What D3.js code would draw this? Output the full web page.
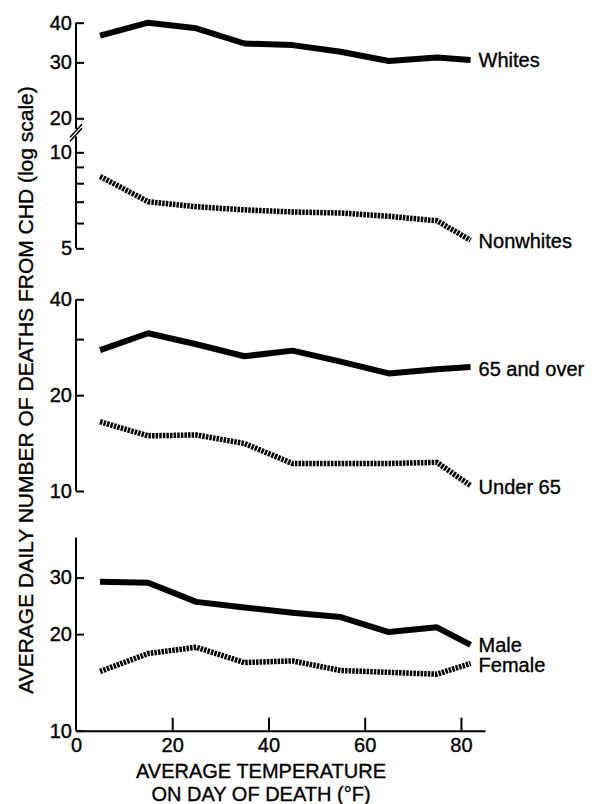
<!DOCTYPE html>
<html>
<head>
<meta charset="utf-8">
<script src="https://cdn.jsdelivr.net/npm/d3@7"></script>
<style>
  html, body { margin: 0; padding: 0; background: #fff; }
  svg { display: block; font-family: "Liberation Sans", Arial, Helvetica, sans-serif; }
  svg text { fill: #000; stroke: #000; stroke-width: 0.35px; }
</style>
</head>
<body>
<svg id="chart" width="592" height="804"></svg>
<script>
// average temperature on day of death (class midpoints, deg F)
var temps = [5, 15, 25, 35, 45, 55, 65, 75, 82];

// average daily deaths from CHD
var whites    = [36.4, 40.0, 38.4, 34.4, 34.0, 32.4, 30.3, 31.1, 30.5];
var nonwhites = [8.4, 7.0, 6.75, 6.6, 6.5, 6.45, 6.3, 6.1, 5.3];
var over65    = [27.7, 31.3, 28.9, 26.5, 27.6, 25.5, 23.4, 24.1, 24.5];
var under65   = [16.5, 14.9, 15.0, 14.1, 12.2, 12.2, 12.2, 12.3, 10.4];
var male      = [29.1, 28.9, 25.2, 24.2, 23.3, 22.6, 20.3, 21.0, 18.5];
var female    = [15.3, 17.4, 18.2, 16.3, 16.5, 15.4, 15.2, 15.0, 16.2];

// axis ticks and which of them get a label
var xTicks = [0, 20, 40, 60, 80];
var whiteTicks = [20, 30, 40], whiteLabels = [20, 30, 40];
var nonwhiteTicks = [5, 6, 7, 8, 9, 10], nonwhiteLabels = [5, 10];
var ageTicks = [10, 20, 30, 40], ageLabels = [10, 20, 40];
var sexTicks = [10, 20, 30], sexLabels = [10, 20, 30];

var svg = d3.select("#chart");
var FONT = 20;

var x = d3.scaleLinear().domain([0, 85]).range([76, 485]);

var yWhite = d3.scaleLog().domain([20, 40]).range([118.3, 22.7]);
var yNonwhite = d3.scaleLog().domain([5, 10]).range([248.3, 152.3]);
var yAge = d3.scaleLog().domain([10, 40]).range([491, 299.3]);
var ySex = d3.scaleLog().domain([10, 40]).range([730.7, 537.5]);

function drawYAxis(scale, ticks, labels, lo, hi) {
    var g = svg.append("g")
        .attr("transform", "translate(" + x(0) + ",0)")
        .call(d3.axisLeft(scale)
            .tickValues(ticks)
            .tickSize(-8)
            .tickSizeOuter(0)
            .tickPadding(4)
            .tickFormat(function (d) { return labels.indexOf(d) >= 0 ? d : ""; }));
    g.select(".domain").remove();
    g.selectAll(".tick line").attr("stroke", "#000").attr("stroke-width", 2);
    g.selectAll(".tick text").style("font-size", FONT + "px");
    g.append("line")
        .attr("x1", 0).attr("x2", 0)
        .attr("y1", scale(hi)).attr("y2", scale(lo))
        .attr("stroke", "#000").attr("stroke-width", 2);
    return g;
}

drawYAxis(yWhite, whiteTicks, whiteLabels, 18.5, 40);
drawYAxis(yNonwhite, nonwhiteTicks, nonwhiteLabels, 5, 11.2);
drawYAxis(yAge, ageTicks, ageLabels, 10, 40);
drawYAxis(ySex, sexTicks, sexLabels, 10, 40);

// axis break marks between Whites and Nonwhites
var yBreak = (yWhite(18.5) + yNonwhite(11.2)) / 2;
[-2, 2].forEach(function (off) {
    svg.append("line")
        .attr("x1", x(0) - 6).attr("y1", yBreak + off + 6.5)
        .attr("x2", x(0) + 6).attr("y2", yBreak + off - 6.5)
        .attr("stroke", "#000").attr("stroke-width", 1.6);
});

// x axis
var gx = svg.append("g")
    .attr("transform", "translate(0," + ySex(10) + ")")
    .call(d3.axisBottom(x)
        .tickValues(xTicks)
        .tickSize(-13)
        .tickSizeOuter(0)
        .tickPadding(7));
gx.select(".domain").attr("stroke", "#000").attr("stroke-width", 2);
gx.selectAll(".tick line").attr("stroke", "#000").attr("stroke-width", 2)
    .filter(function (d) { return d === 0; }).remove();
gx.selectAll(".tick text").style("font-size", FONT + "px");

// series
var series = [
    { values: whites, y: yWhite, dotted: false, label: "Whites", dy: 0 },
    { values: nonwhites, y: yNonwhite, dotted: true, label: "Nonwhites", dy: 1 },
    { values: over65, y: yAge, dotted: false, label: "65 and over", dy: 2 },
    { values: under65, y: yAge, dotted: true, label: "Under 65", dy: 1 },
    { values: male, y: ySex, dotted: false, label: "Male", dy: 0 },
    { values: female, y: ySex, dotted: true, label: "Female", dy: 2 }
];

series.forEach(function (s) {
    var line = d3.line()
        .x(function (d, i) { return x(temps[i]); })
        .y(function (d) { return s.y(d); });
    var p = svg.append("path")
        .datum(s.values)
        .attr("d", line)
        .attr("fill", "none")
        .attr("stroke", "#000")
        .attr("stroke-linejoin", "round")
        .attr("stroke-linecap", "butt");
    if (s.dotted) {
        p.attr("stroke-width", 5.5).attr("stroke-dasharray", "2.5,1.1");
    } else {
        p.attr("stroke-width", 6);
    }
    var last = s.values.length - 1;
    svg.append("text")
        .attr("x", x(temps[last]) + 8)
        .attr("y", s.y(s.values[last]) + s.dy)
        .attr("dy", "0.35em")
        .style("font-size", FONT + "px")
        .text(s.label);
});

// axis titles
svg.append("text")
    .attr("x", 261).attr("y", 778.3)
    .attr("text-anchor", "middle")
    .style("font-size", FONT + "px")
    .text("AVERAGE TEMPERATURE");
svg.append("text")
    .attr("x", 261).attr("y", 800.7)
    .attr("text-anchor", "middle")
    .style("font-size", FONT + "px")
    .text("ON DAY OF DEATH (°F)");

svg.append("text")
    .attr("transform", "translate(32.5,390) rotate(-90)")
    .attr("text-anchor", "middle")
    .style("font-size", "21px")
    .text("AVERAGE DAILY NUMBER OF DEATHS FROM CHD (log scale)");
</script>
</body>
</html>
